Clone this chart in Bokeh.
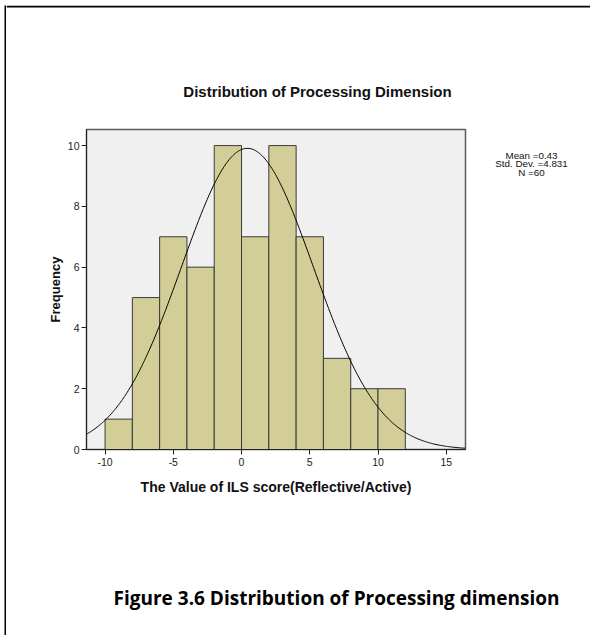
import numpy as np
from bokeh.plotting import figure
from bokeh.layouts import row, column
from bokeh.models import Range1d, FixedTicker, Span
from bokeh.core.properties import value
from bokeh.embed import file_html
from bokeh.resources import INLINE

# ---- data ----
bin_left = [-10, -8, -6, -4, -2, 0, 2, 4, 6, 8, 10]
bin_right = [-8, -6, -4, -2, 0, 2, 4, 6, 8, 10, 12]
counts = [1, 5, 7, 6, 10, 7, 10, 7, 3, 2, 2]
mean = 0.43
std_dev = 4.831
n_obs = 60
bin_width = 2
x_ticks = [-10, -5, 0, 5, 10, 15]
y_ticks = [0, 2, 4, 6, 8, 10]
title_text = "Distribution of Processing Dimension"
x_label = "The Value of ILS score(Reflective/Active)"
y_label = "Frequency"
stats_lines = ["Mean =0.43", "Std. Dev. =4.831", "N =60"]
caption = "Figure 3.6 Distribution of Processing dimension"

X0, X1 = -11.36, 16.41
Y0, Y1 = 0, 10.53

W = 584
TITLE_H, MAIN_H, CAP_H = 107, 388, 135
MAIN_W = 464
STATS_W = W - MAIN_W
MB_TOP, MB_BOTTOM = 17, 51


def text_panel(w, h, bg="white", y_top=0, y_bottom=None):
    f = figure(width=w, height=h, output_backend="svg", toolbar_location=None,
               x_range=Range1d(0, w),
               y_range=Range1d(h if y_bottom is None else y_bottom, y_top),
               x_axis_type=None, y_axis_type=None, min_border=0)
    f.title.visible = False
    f.outline_line_color = None
    f.background_fill_color = bg
    f.border_fill_color = bg
    f.xgrid.visible = False
    f.ygrid.visible = False
    return f


# black page border on the left
left_bar = text_panel(2, TITLE_H + MAIN_H + CAP_H, bg="black")

# title panel (with the top page border)
title_fig = text_panel(W, TITLE_H)
title_fig.add_layout(Span(location=1, dimension="width", line_color="black", line_width=2))
title_fig.text(x=[311], y=[86], text=[title_text], text_align="center",
               text_baseline="middle", text_font=value("Liberation Sans"),
               text_font_style="bold", text_font_size="15px", text_color="#111111")

# main histogram
p = figure(width=MAIN_W, height=MAIN_H, output_backend="svg", toolbar_location=None,
           x_range=Range1d(X0, X1), y_range=Range1d(Y0, Y1),
           min_border_left=80, min_border_right=5, min_border_top=MB_TOP,
           min_border_bottom=MB_BOTTOM)
p.title.visible = False
p.background_fill_color = "#f0f0f0"
p.border_fill_color = "white"
p.outline_line_color = "#5a5a5a"
p.outline_line_width = 1.5
p.xgrid.visible = False
p.ygrid.visible = False

p.quad(left=bin_left, right=bin_right, top=counts, bottom=0,
       fill_color="#d3ce97", line_color="#3a3a3a", line_width=1)

xs = np.linspace(X0, X1, 400)
ys = n_obs * bin_width / (std_dev * np.sqrt(2 * np.pi)) * np.exp(-0.5 * ((xs - mean) / std_dev) ** 2)
p.line(xs, ys, line_color="black", line_width=1)

for ax in (p.xaxis[0], p.yaxis[0]):
    ax.axis_line_color = "#222222"
    ax.major_tick_line_color = "#222222"
    ax.major_tick_out = 5
    ax.major_tick_in = 0
    ax.minor_tick_line_color = None
    ax.major_label_text_font = "Liberation Sans"
    ax.major_label_text_font_size = "10.5px"
    ax.major_label_text_color = "#222222"
    ax.axis_label_text_font = "Liberation Sans"
    ax.axis_label_text_font_style = "bold"
    ax.axis_label_text_color = "#111111"

p.xaxis.ticker = FixedTicker(ticks=x_ticks)
p.yaxis.ticker = FixedTicker(ticks=y_ticks)
p.xaxis.major_label_overrides = {t: str(t) for t in x_ticks}
p.xaxis.axis_label = x_label
p.yaxis.axis_label = y_label
p.xaxis.axis_label_text_font_size = "14px"
p.yaxis.axis_label_text_font_size = "13px"
p.xaxis.major_label_standoff = 3
p.yaxis.major_label_standoff = 2
p.xaxis.axis_label_standoff = 10
p.yaxis.axis_label_standoff = 2

# stats panel (its frame is aligned with the histogram frame, so map pixel rows to it)
stats_fig = text_panel(STATS_W, MAIN_H, y_top=MB_TOP, y_bottom=MAIN_H - MB_BOTTOM)
stats_fig.text(x=[61] * len(stats_lines), y=[43 + 8.3 * i for i in range(len(stats_lines))],
               text=stats_lines, text_align="center", text_baseline="middle",
               text_font=value("Liberation Sans"), text_font_size="9.8px",
               text_color="#111111")

# caption panel
cap_fig = text_panel(W, CAP_H)
cap_fig.text(x=[330], y=[97], text=[caption], text_align="center",
             text_baseline="alphabetic", text_font=value("Open Sans"),
             text_font_style="bold", text_font_size="19px", text_color="black")

layout = row(left_bar,
             column(title_fig, row(p, stats_fig, spacing=0), cap_fig, spacing=0),
             spacing=0, margin=(5, 0, 0, 4))

open("out.html", "w").write(file_html(layout, INLINE))
